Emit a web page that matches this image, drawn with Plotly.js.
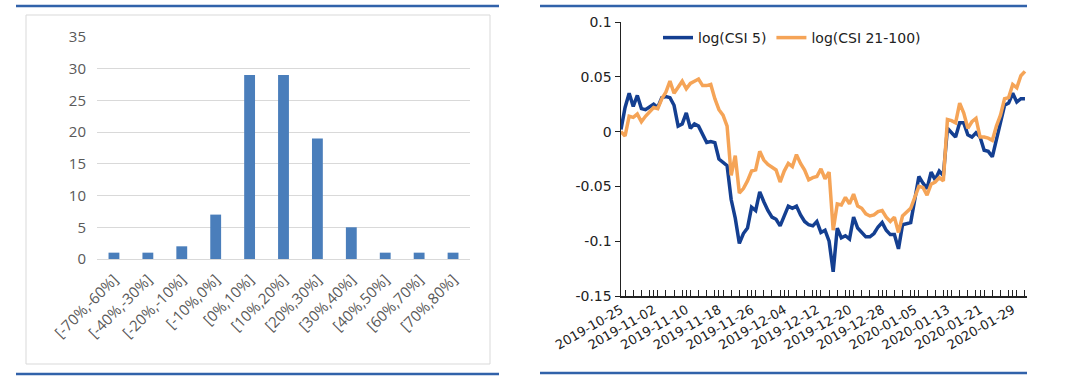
<!DOCTYPE html>
<html>
<head>
<meta charset="utf-8">
<script src="https://cdn.plot.ly/plotly-3.0.1.min.js"></script>
<style>html,body{margin:0;padding:0;background:#fff;}#chart{width:1080px;height:376px;}</style>
</head>
<body>
<div id="chart"></div>
<script>
// ---- Left chart: distribution of returns ----
var binLabels = ['[-70%,-60%]','[-40%,-30%]','[-20%,-10%]','[-10%,0%]','[0%,10%]','[10%,20%]','[20%,30%]','[30%,40%]','[40%,50%]','[60%,70%]','[70%,80%]'];
var binCounts = [1, 1, 2, 7, 29, 29, 19, 5, 1, 1, 1];
var countTicks = [0, 5, 10, 15, 20, 25, 30, 35];

// ---- Right chart: log index levels ----
var startDate = '2019-10-25';
var csi5 = [0.002,0.022,0.035,0.023,0.033,0.021,0.020,0.023,0.025,0.022,
  0.031,0.032,0.031,0.024,0.005,0.007,0.017,0.003,0.007,0.005,
  -0.002,-0.010,-0.009,-0.010,-0.025,-0.028,-0.031,-0.062,-0.079,-0.102,
  -0.093,-0.088,-0.069,-0.072,-0.055,-0.064,-0.072,-0.078,-0.080,-0.086,
  -0.077,-0.068,-0.070,-0.068,-0.076,-0.082,-0.085,-0.086,-0.082,-0.092,
  -0.090,-0.100,-0.128,-0.088,-0.097,-0.095,-0.098,-0.078,-0.088,-0.092,
  -0.096,-0.096,-0.093,-0.087,-0.083,-0.090,-0.094,-0.094,-0.107,-0.085,
  -0.084,-0.083,-0.062,-0.041,-0.047,-0.052,-0.037,-0.044,-0.036,-0.040,
  0.003,-0.001,-0.005,0.008,0.008,-0.003,-0.005,-0.001,-0.005,-0.017,
  -0.018,-0.023,-0.007,0.010,0.024,0.026,0.035,0.027,0.030,0.030];
var csi21 = [0.000,-0.004,0.014,0.013,0.016,0.009,0.014,0.018,0.022,0.021,
  0.030,0.036,0.046,0.035,0.040,0.046,0.039,0.044,0.046,0.048,
  0.042,0.042,0.043,0.030,0.020,0.015,0.005,-0.040,-0.022,-0.056,
  -0.052,-0.045,-0.036,-0.035,-0.018,-0.026,-0.030,-0.033,-0.035,-0.046,
  -0.036,-0.029,-0.032,-0.021,-0.029,-0.035,-0.044,-0.042,-0.041,-0.034,
  -0.043,-0.037,-0.090,-0.066,-0.067,-0.060,-0.066,-0.057,-0.068,-0.070,
  -0.075,-0.077,-0.076,-0.073,-0.072,-0.078,-0.082,-0.078,-0.092,-0.077,
  -0.074,-0.070,-0.060,-0.050,-0.051,-0.058,-0.048,-0.046,-0.042,-0.045,
  0.011,0.010,0.008,0.026,0.017,0.003,0.009,0.012,-0.005,-0.005,
  -0.006,-0.008,0.005,0.015,0.030,0.031,0.043,0.040,0.051,0.055];
var yTickVals = [0.1, 0.05, 0, -0.05, -0.1, -0.15];
var yTickText = ['0.1', '0.05', '0', '-0.05', '-0.1', '-0.15'];
var seriesNames = ['log(CSI 5)', 'log(CSI 21-100)'];

// daily calendar dates for the x axis
var dates = [];
(function(){
  var d0 = new Date(startDate + 'T00:00:00Z');
  for (var i = 0; i < csi5.length; i++) {
    var d = new Date(d0.getTime() + i * 86400000);
    dates.push(d.toISOString().slice(0, 10));
  }
})();

var W = 1080, H = 376;
function fx(px){ return px / W; }
function fy(py){ return 1 - py / H; }

var traces = [
  {type:'bar', x:binLabels, y:binCounts, xaxis:'x', yaxis:'y',
   marker:{color:'#4a7ebb'}, showlegend:false, hoverinfo:'skip'},
  {type:'scatter', mode:'lines', x:dates, y:csi5, xaxis:'x2', yaxis:'y2', name:seriesNames[0],
   line:{color:'#143f91', width:3.5}},
  {type:'scatter', mode:'lines', x:dates, y:csi21, xaxis:'x2', yaxis:'y2', name:seriesNames[1],
   line:{color:'#f5a457', width:3.5}}
];

var blueLine = '#3162aa';
var layout = {
  width: W, height: H,
  margin:{l:0, r:0, t:0, b:0},
  paper_bgcolor:'#ffffff', plot_bgcolor:'rgba(0,0,0,0)',
  showlegend:true,
  bargap:0.68,
  font:{family:'Open Sans, sans-serif', color:'#595959'},
  xaxis:{domain:[fx(97), fx(470)], anchor:'y', type:'category',
    tickangle:-45, tickfont:{size:15, color:'#595959', family:'Open Sans, sans-serif'},
    showline:false, showgrid:false, ticks:'', zeroline:false, ticklabelstandoff:8},
  yaxis:{domain:[fy(259), fy(37)], anchor:'x', range:[0, 35],
    tickvals:countTicks, tickfont:{size:15, color:'#595959', family:'Open Sans, sans-serif'},
    showgrid:true, gridcolor:'#d9d9d9', gridwidth:1, zeroline:true, zerolinecolor:'#d9d9d9',
    zerolinewidth:1, showline:false, ticks:'', ticklabelstandoff:10},
  xaxis2:{domain:[fx(621), fx(1027)], anchor:'y2', type:'date',
    range:['2019-10-25', '2020-02-01 12:00'],
    tick0:'2019-10-25', dtick:8*86400000, tickformat:'%Y-%m-%d',
    tickangle:-30, tickfont:{size:13, color:'#222222', family:'DejaVu Sans, sans-serif'},
    showline:true, linecolor:'#222222', linewidth:1.5, ticks:'inside', ticklen:6,
    tickcolor:'#222222', tickwidth:1,
    minor:{dtick:2*86400000, ticks:'inside', ticklen:6, tickcolor:'#222222', tickwidth:1, showgrid:false},
    showgrid:false, zeroline:false},
  yaxis2:{domain:[fy(296), fy(22)], anchor:'x2', range:[-0.15, 0.1],
    tickvals:yTickVals, ticktext:yTickText,
    tickfont:{size:14, color:'#222222', family:'DejaVu Sans, sans-serif'},
    showline:true, linecolor:'#222222', linewidth:1.5, ticks:'outside', ticklen:5,
    tickcolor:'#222222', showgrid:false, zeroline:false},
  legend:{orientation:'h', x:fx(658), y:fy(22), xanchor:'left', yanchor:'top',
    font:{size:14, color:'#222222', family:'DejaVu Sans, sans-serif'},
    bgcolor:'rgba(0,0,0,0)', itemwidth:30, tracegroupgap:0},
  shapes:[
    {type:'rect', xref:'paper', yref:'paper', x0:fx(26), x1:fx(490), y0:fy(364), y1:fy(15),
     line:{color:'#d9d9d9', width:1}, fillcolor:'rgba(0,0,0,0)'},
    {type:'line', xref:'paper', yref:'paper', x0:fx(16), x1:fx(499), y0:fy(6), y1:fy(6),
     line:{color:blueLine, width:2.5}},
    {type:'line', xref:'paper', yref:'paper', x0:fx(16), x1:fx(499), y0:fy(374), y1:fy(374),
     line:{color:blueLine, width:2.5}},
    {type:'line', xref:'paper', yref:'paper', x0:fx(540), x1:fx(1027), y0:fy(6), y1:fy(6),
     line:{color:blueLine, width:2.5}},
    {type:'line', xref:'paper', yref:'paper', x0:fx(540), x1:fx(1027), y0:fy(373), y1:fy(373),
     line:{color:blueLine, width:2.5}}
  ]
};

Plotly.newPlot('chart', traces, layout, {staticPlot:true, displayModeBar:false});
</script>
</body>
</html>
